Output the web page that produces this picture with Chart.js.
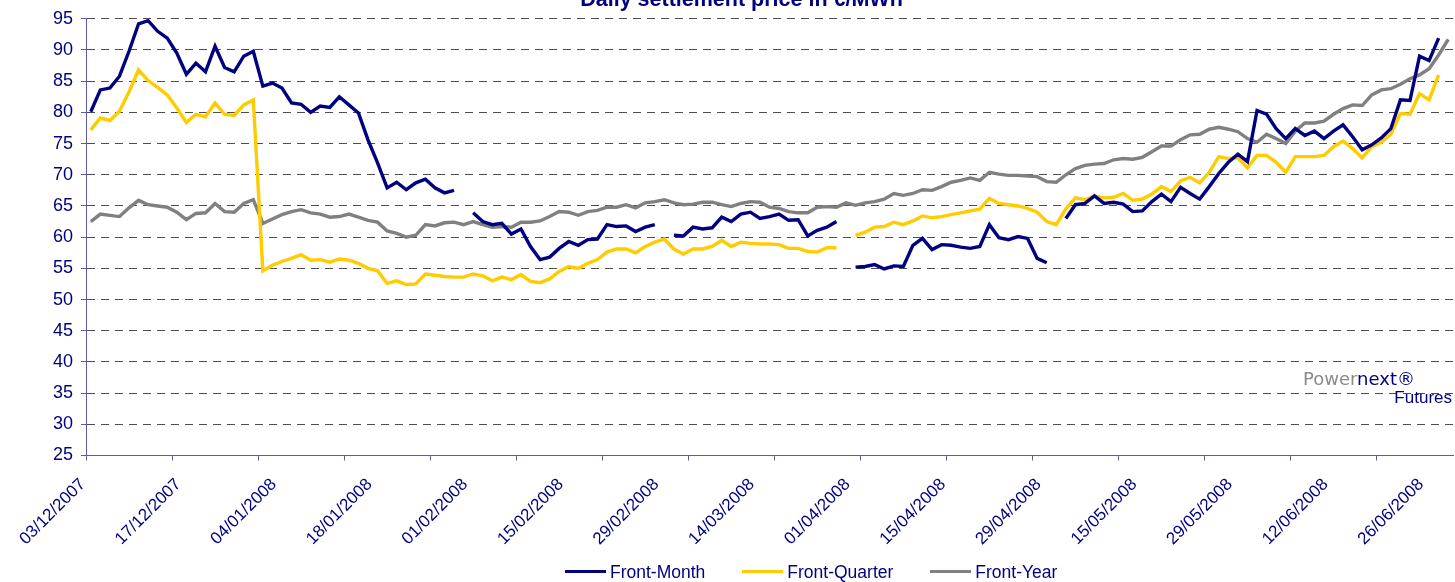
<!DOCTYPE html>
<html lang="en">
<head>
    <meta charset="UTF-8">
    <title>Daily settlement price in €/MWh</title>
    <script src="https://cdn.jsdelivr.net/npm/chart.js"></script>
    <style>
        body {
            margin: 0;
            padding: 0;
            background: #ffffff;
            overflow: hidden;
            font-family: 'Liberation Sans', Arial, sans-serif;
        }
        .wrap {
            position: relative;
            width: 1455px;
            height: 582px;
        }
        .logo-top {
            position: absolute;
            left: 1303px;
            top: 369.8px;
            font-family: 'DejaVu Sans', Verdana, sans-serif;
            font-size: 18px;
            line-height: 18px;
            white-space: nowrap;
        }
        .logo-top .power { color: #8a8a8a; }
        .logo-top .next { color: #000080; }
        .logo-bottom {
            position: absolute;
            right: 3px;
            top: 388.5px;
            font-size: 17px;
            line-height: 17px;
            color: #000080;
        }
        .legend {
            position: absolute;
            left: 565px;
            top: 561.6px;
            display: flex;
            align-items: center;
            font-size: 17.5px;
            line-height: 20px;
            color: #000080;
            white-space: nowrap;
        }
        .legend .item {
            display: flex;
            align-items: center;
            margin-right: 37px;
        }
        .legend .swatch {
            display: inline-block;
            width: 41px;
            height: 3px;
            margin-right: 4px;
        }
    </style>
</head>
<body>
    <div class="wrap">
        <canvas id="priceChart"></canvas>
        <div class="logo-top"><span class="power">Power</span><span class="next">next®</span></div>
        <div class="logo-bottom">Futures</div>
        <div class="legend" id="legend"></div>
    </div>

    <script>
        // tick labels, one every 10 trading days
        const tickDates = ['03/12/2007', '17/12/2007', '04/01/2008', '18/01/2008', '01/02/2008',
            '15/02/2008', '29/02/2008', '14/03/2008', '01/04/2008', '15/04/2008',
            '29/04/2008', '15/05/2008', '29/05/2008', '12/06/2008', '26/06/2008'];

        // daily settlement prices (€/MWh), null = no quote
        const frontMonth = [
            80.1, 83.6, 83.9, 85.8, 89.8, 94.2, 94.7, 93.0, 91.9, 89.5,
            86.1, 87.9, 86.5, 90.6, 87.2, 86.5, 89.0, 89.8, 84.2, 84.7,
            83.9, 81.5, 81.3, 80.0, 81.0, 80.8, 82.5, 81.2, 79.9, 75.6,
            71.9, 67.9, 68.8, 67.6, 68.7, 69.3, 67.9, 67.1, 67.5, null,
            63.9, 62.5, 62.0, 62.2, 60.5, 61.3, 58.5, 56.4, 56.8, 58.2,
            59.3, 58.7, 59.6, 59.7, 62.0, 61.7, 61.8, 60.9, 61.6, 62.0,
            null, 60.3, 60.2, 61.6, 61.3, 61.5, 63.2, 62.5, 63.7, 64.0,
            63.0, 63.3, 63.7, 62.7, 62.8, 60.2, 61.1, 61.6, 62.5, null,
            55.2, 55.3, 55.6, 54.9, 55.4, 55.3, 58.7, 59.8, 58.0, 58.8,
            58.7, 58.4, 58.2, 58.5, 62.0, 59.9, 59.6, 60.1, 59.8, 56.6,
            55.9, null, 63.0, 65.2, 65.4, 66.6, 65.4, 65.6, 65.3, 64.1,
            64.2, 65.7, 66.9, 65.7, 68.0, 67.0, 66.1, 68.1, 70.2, 72.0,
            73.3, 72.1, 80.3, 79.7, 77.4, 75.8, 77.4, 76.3, 77.0, 75.8,
            77.0, 78.0, 76.1, 74.0, 74.8, 75.9, 77.4, 82.0, 81.9, 89.0,
            88.3, 91.9, null
        ];
        const frontQuarter = [
            77.2, 79.1, 78.7, 80.2, 83.3, 86.8, 85.1, 84.0, 82.8, 80.7,
            78.4, 79.7, 79.3, 81.5, 79.7, 79.5, 81.2, 82.0, 54.6, 55.5,
            56.1, 56.6, 57.2, 56.3, 56.4, 56.0, 56.5, 56.3, 55.8, 55.0,
            54.6, 52.6, 53.0, 52.4, 52.5, 54.1, 53.9, 53.7, 53.6, 53.6,
            54.1, 53.8, 53.0, 53.6, 53.2, 54.0, 52.9, 52.7, 53.3, 54.5,
            55.3, 55.0, 55.8, 56.4, 57.6, 58.1, 58.1, 57.5, 58.5, 59.2,
            59.7, 58.1, 57.3, 58.1, 58.1, 58.5, 59.5, 58.5, 59.2, 59.0,
            58.9, 58.9, 58.8, 58.2, 58.2, 57.7, 57.6, 58.3, 58.3, null,
            60.3, 60.8, 61.6, 61.7, 62.4, 62.0, 62.6, 63.4, 63.1, 63.3,
            63.6, 63.9, 64.2, 64.5, 66.2, 65.4, 65.2, 65.0, 64.6, 64.0,
            62.5, 62.0, 64.5, 66.3, 66.0, 66.6, 66.3, 66.4, 67.0, 65.9,
            66.1, 66.9, 68.1, 67.3, 69.0, 69.6, 68.7, 70.4, 72.9, 72.6,
            72.7, 71.1, 73.1, 73.1, 72.0, 70.4, 72.9, 72.9, 72.9, 73.1,
            74.5, 75.4, 74.2, 72.7, 74.5, 75.2, 76.5, 79.8, 79.7, 83.0,
            82.0, 86.0, null
        ];
        const frontYear = [
            62.5, 63.7, 63.5, 63.3, 64.7, 65.9, 65.2, 65.0, 64.8, 64.0,
            62.8, 63.8, 63.9, 65.4, 64.1, 64.0, 65.4, 66.0, 62.2, 62.9,
            63.6, 64.1, 64.4, 63.9, 63.7, 63.2, 63.3, 63.7, 63.2, 62.7,
            62.4, 61.0, 60.6, 60.0, 60.3, 62.0, 61.8, 62.3, 62.4, 62.0,
            62.5, 62.0, 61.6, 61.7, 61.6, 62.4, 62.4, 62.6, 63.3, 64.1,
            64.0, 63.5, 64.1, 64.3, 64.8, 64.8, 65.2, 64.7, 65.5, 65.7,
            66.0, 65.5, 65.2, 65.3, 65.6, 65.6, 65.2, 64.9, 65.4, 65.7,
            65.6, 64.8, 64.6, 64.1, 63.9, 63.9, 64.8, 64.9, 64.8, 65.5,
            65.1, 65.5, 65.7, 66.1, 67.0, 66.7, 67.0, 67.6, 67.5, 68.1,
            68.8, 69.1, 69.5, 69.1, 70.4, 70.1, 69.9, 69.9, 69.8, 69.7,
            68.9, 68.8, 70.0, 71.0, 71.5, 71.7, 71.8, 72.4, 72.6, 72.5,
            72.8, 73.7, 74.6, 74.6, 75.6, 76.4, 76.5, 77.3, 77.6, 77.3,
            76.9, 75.8, 75.2, 76.5, 75.8, 75.0, 77.0, 78.3, 78.3, 78.6,
            79.7, 80.6, 81.2, 81.1, 82.8, 83.6, 83.8, 84.5, 85.4, 86.0,
            87.0, 89.2, 91.7
        ];

        const navy = '#000080';
        const axisColor = '#5c5cad';
        const fontFamily = "'Liberation Sans', Arial, sans-serif";

        // one category per trading day, labelled every 10th day
        const labels = frontYear.map((v, i) => (i % 10 === 0 ? tickDates[i / 10] : ''));

        const series = [
            { label: 'Front-Month', data: frontMonth, color: '#000080' },
            { label: 'Front-Quarter', data: frontQuarter, color: '#ffcc00' },
            { label: 'Front-Year', data: frontYear, color: '#808080' }
        ];

        // title sits half out of the picture, so draw it by hand
        const titlePlugin = {
            id: 'cutTitle',
            afterDraw(chart) {
                const c = chart.ctx;
                c.save();
                c.font = 'bold 21.5px ' + fontFamily;
                c.fillStyle = navy;
                c.textAlign = 'center';
                c.textBaseline = 'alphabetic';
                c.fillText('Daily settlement price in €/MWh', 741.5, 5.5);
                c.restore();
            }
        };

        const ctx = document.getElementById('priceChart').getContext('2d');
        const priceChart = new Chart(ctx, {
            type: 'line',
            data: {
                labels: labels,
                datasets: series.map(s => ({
                    label: s.label,
                    data: s.data,
                    borderColor: s.color,
                    backgroundColor: s.color,
                    borderWidth: 3.4,
                    pointRadius: 0,
                    tension: 0,
                    spanGaps: false
                }))
            },
            options: {
                responsive: true,
                maintainAspectRatio: false,
                animation: false,
                layout: { padding: { top: 17.3, left: 0, right: 2, bottom: 0 } },
                plugins: {
                    legend: { display: false },
                    tooltip: { enabled: false }
                },
                scales: {
                    x: {
                        type: 'category',
                        offset: true,
                        grid: {
                            offset: true,
                            drawOnChartArea: false,
                            drawTicks: true,
                            tickLength: 5,
                            tickColor: c => (c.index % 9 === 0 ? axisColor : 'rgba(0,0,0,0)')
                        },
                        border: { color: axisColor, width: 1 },
                        ticks: {
                            autoSkip: false,
                            maxRotation: 45,
                            minRotation: 45,
                            padding: 14,
                            labelOffset: -8,
                            color: navy,
                            font: { family: fontFamily, size: 17 }
                        },
                        afterFit(scale) {
                            scale.height = 126.5;
                            scale.paddingLeft = 0;
                            scale.paddingRight = 0;
                        }
                    },
                    y: {
                        min: 25,
                        max: 95,
                        ticks: {
                            stepSize: 5,
                            padding: 8,
                            color: navy,
                            font: { family: fontFamily, size: 18 }
                        },
                        grid: {
                            color: c => (c.tick && c.tick.value === 25 ? 'rgba(0,0,0,0)' : '#4d4d4d'),
                            lineWidth: 1,
                            tickLength: 5,
                            tickColor: axisColor,
                            tickBorderDash: []
                        },
                        border: { color: axisColor, width: 1, dash: [8, 6] },
                        afterFit(scale) {
                            scale.width = 86;
                        }
                    }
                }
            },
            plugins: [titlePlugin]
        });

        // legend under the axis labels
        const legendBox = document.getElementById('legend');
        series.forEach(s => {
            const item = document.createElement('span');
            item.className = 'item';
            item.innerHTML = `<span class="swatch" style="background:${s.color}"></span>${s.label}`;
            legendBox.appendChild(item);
        });
    </script>
</body>
</html>
